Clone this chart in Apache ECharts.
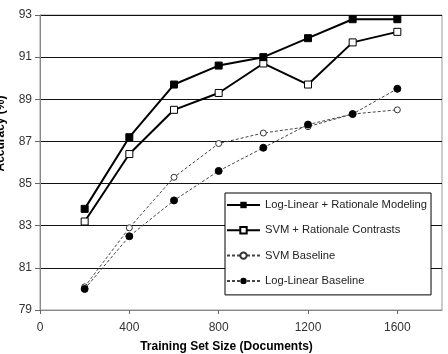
<!DOCTYPE html>
<html>
<head>
<meta charset="utf-8">
<script src="https://cdn.jsdelivr.net/npm/echarts@6/dist/echarts.min.js"></script>
<style>
  html, body { margin: 0; padding: 0; background: #fff; }
  #chart { width: 448px; height: 354px; }
</style>
</head>
<body>
<div id="chart"></div>
<script>
// training set sizes
const sizes = [200, 400, 600, 800, 1000, 1200, 1400, 1600]
// accuracy (%) per method
const logLinearRationale = [83.8, 87.2, 89.7, 90.6, 91.0, 91.9, 92.8, 92.8]
const svmRationale = [83.2, 86.4, 88.5, 89.3, 90.7, 89.7, 91.7, 92.2]
const svmBaseline = [80.1, 82.9, 85.3, 86.9, 87.4, 87.7, 88.3, 88.5]
const logLinearBaseline = [80.0, 82.5, 84.2, 85.6, 86.7, 87.8, 88.3, 89.5]

const seriesNames = [
  'Log-Linear + Rationale Modeling',
  'SVM + Rationale Contrasts',
  'SVM Baseline',
  'Log-Linear Baseline'
]

function pairs(vals) {
  return sizes.map((s, i) => [s, vals[i]])
}

const chart = echarts.init(document.getElementById('chart'))
const font = 'Liberation Sans, Arial, sans-serif'

chart.setOption({
  animation: false,
  grid: {
    left: 40,
    right: 6,
    top: 15,
    bottom: 44,
    outerBoundsMode: 'none',
    containLabel: false,
    show: true,
    borderColor: '#999',
    borderWidth: 1
  },
  legend: {
    orient: 'vertical',
    left: 225,
    top: 193,
    padding: [6.5, 4, 8.5, 1],
    itemWidth: 33,
    itemHeight: 8,
    itemGap: 14.3,
    backgroundColor: '#fff',
    borderColor: '#000',
    borderWidth: 1,
    textStyle: { fontFamily: font, fontSize: 11.2, color: '#222' },
    data: seriesNames
  },
  xAxis: {
    type: 'value',
    min: 0,
    max: 1800,
    interval: 400,
    name: 'Training Set Size (Documents)',
    nameLocation: 'middle',
    nameGap: 31,
    nameTextStyle: {
      fontFamily: font, fontSize: 12, fontWeight: 'bold', color: '#000',
      padding: [0, 29, 0, 0]
    },
    axisLine: { lineStyle: { color: '#888', width: 1 } },
    axisTick: { show: true, length: 4, lineStyle: { color: '#666' } },
    axisLabel: {
      fontFamily: font, fontSize: 12, color: '#333', margin: 12,
      showMaxLabel: false,
      formatter: v => String(v)
    },
    splitLine: { show: false }
  },
  yAxis: {
    type: 'value',
    min: 79,
    max: 93,
    interval: 2,
    name: 'Accuracy (%)',
    nameLocation: 'middle',
    nameGap: 33,
    nameTextStyle: {
      fontFamily: font, fontSize: 12, fontWeight: 'bold', color: '#000',
      padding: [0, 0, 0, 58]
    },
    axisLine: { show: true, lineStyle: { color: '#888', width: 1 } },
    axisTick: { show: true, length: 5, lineStyle: { color: '#666' } },
    axisLabel: { fontFamily: font, fontSize: 12, color: '#333', margin: 8 },
    splitLine: { show: true, lineStyle: { color: '#111', width: 1 } }
  },
  series: [
    {
      name: seriesNames[0],
      type: 'line',
      data: pairs(logLinearRationale),
      symbol: 'rect',
      symbolSize: 7,
      itemStyle: { color: '#000', borderColor: '#000' },
      lineStyle: { color: '#000', width: 2 },
      z: 4
    },
    {
      name: seriesNames[1],
      type: 'line',
      data: pairs(svmRationale),
      symbol: 'rect',
      symbolSize: 7,
      itemStyle: { color: '#fff', borderColor: '#000', borderWidth: 1 },
      lineStyle: { color: '#000', width: 2 },
      z: 3
    },
    {
      name: seriesNames[2],
      type: 'line',
      data: pairs(svmBaseline),
      symbol: 'circle',
      symbolSize: 6,
      itemStyle: { color: '#fff', borderColor: '#333', borderWidth: 1 },
      lineStyle: { color: '#444', width: 1, type: [3, 2] },
      z: 2
    },
    {
      name: seriesNames[3],
      type: 'line',
      data: pairs(logLinearBaseline),
      symbol: 'circle',
      symbolSize: 7,
      itemStyle: { color: '#000', borderColor: '#000' },
      lineStyle: { color: '#444', width: 1, type: [3, 2] },
      z: 2
    }
  ]
})
</script>
</body>
</html>
